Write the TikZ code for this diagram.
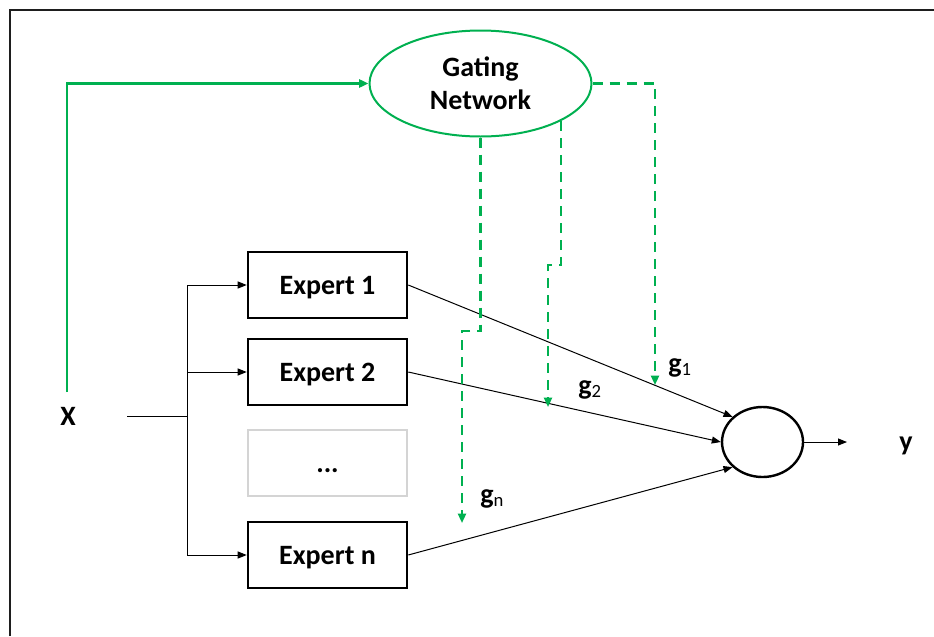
\documentclass[tikz,border=0pt]{standalone}
\usepackage{fontspec}
\setmainfont{Carlito}
\usetikzlibrary{arrows.meta,shapes.geometric}
\definecolor{gatecol}{RGB}{0,176,80}
\definecolor{framecol}{RGB}{30,30,30}
% gate output label: bold g with a small lowered index
\newcommand{\gsub}[1]{g\raisebox{-2.4pt}{\fontsize{14}{16}\selectfont\mdseries #1}}

\begin{document}
\begin{tikzpicture}[x=0.75pt, y=-0.75pt,
  every node/.style={font=\fontsize{21}{24.75}\selectfont\bfseries},
  expbox/.style={draw, line width=1.9pt, rectangle, minimum width=119.25pt,
    minimum height=49.5pt, inner sep=0pt, text height=13.5pt, text depth=0pt},
  dotbox/.style={expbox, draw=black!17, line width=0.8pt},
  gatenode/.style={draw=gatecol, line width=1.5pt, ellipse, minimum width=166.5pt,
    minimum height=79.5pt, inner sep=0pt, align=center},
  sumnode/.style={draw, line width=1.8pt, ellipse, minimum width=60.75pt,
    minimum height=52.5pt, inner sep=0pt},
  wire/.style={line width=0.75pt, draw=black},
  arr/.style={wire, -{Triangle[length=6.75pt,width=5.25pt]}},
  gsolid/.style={draw=gatecol, line width=1.8pt, -{Triangle[length=7pt,width=6pt]}},
  gdash/.style={draw=gatecol, line width=1.6pt, dash pattern=on 7.5pt off 5.25pt,
    -{Triangle[length=7pt,width=6pt]}},
  lab/.style={anchor=base west, inner sep=0pt},
]
\useasboundingbox (0,0) rectangle (934,636);

% outer frame
\draw[line width=1.5pt, framecol] (10,636) -- (10,10) -- (934,10);

% nodes
\node[gatenode] (gate) at (480.5,83.5) {Gating\\Network};
\node[expbox] (e1) at (327.5,285) {Expert 1};
\node[expbox] (e2) at (327.5,372) {Expert 2};
\node[dotbox] (ed) at (327.5,463) {...};
\node[expbox] (en) at (327.5,555) {Expert n};
\node[sumnode] (sum) at (762.5,442) {};
\node[anchor=base, inner sep=0pt] (xlab) at (68,425) {X};
\node[anchor=base, inner sep=0pt] (ylab) at (906,450) {y};

% input fan-out to the experts
\coordinate (xin) at (127,416);
\coordinate (split) at (187,416);
\coordinate (s1) at (187,285);
\coordinate (s2) at (187,372);
\coordinate (sn) at (187,555);
\draw[wire] (xin) -- (split);
\draw[wire] (s1) -- (sn);
\draw[arr] (s1) -- (e1.west);
\draw[arr] (s2) -- (e2.west);
\draw[arr] (sn) -- (en.west);

% experts into the combiner
\draw[arr] (e1.east) -- (sum.140);
\draw[arr] (e2.east) -- (sum.west);
\draw[arr] (en.east) -- (sum.220);
\coordinate (yout) at (847,442);
\draw[arr] (sum.east) -- (yout);

% input to the gating network
\coordinate (gstart) at (67,392);
\draw[gsolid] (gstart) |- (gate.west);

% gate weights
\coordinate (t1) at (655,385);
\draw[gdash] (gate.east) -| (t1);
\coordinate (k2) at (548,265);
\coordinate (t2) at (548,407);
\draw[gdash] (gate.-25.8) |- (k2) -- (t2);
\coordinate (k3) at (462,331);
\coordinate (t3) at (462,523);
\draw[gdash] (gate.south) |- (k3) -- (t3);

% weight labels
\node[lab] (lg1) at (668,372) {\gsub{1}};
\node[lab] (lg2) at (578,394.5) {\gsub{2}};
\node[lab] (lgn) at (480,503) {\gsub{n}};
\end{tikzpicture}
\end{document}
